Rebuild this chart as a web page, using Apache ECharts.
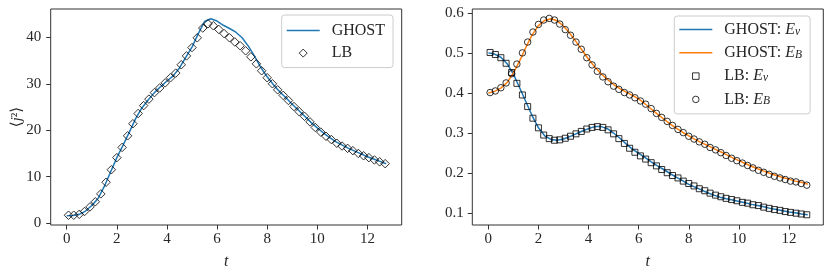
<!DOCTYPE html>
<html><head><meta charset="utf-8">
<script src="https://cdn.jsdelivr.net/npm/echarts@6/dist/echarts.min.js"></script>
<style>html,body{margin:0;padding:0;background:#fff}#c{width:831px;height:275px}</style>
</head><body><div id="c"></div>
<script>
// ---- data ----
const tLB = [0.07,0.28,0.50,0.71,0.93,1.14,1.36,1.57,1.78,2.00,2.21,2.43,2.64,2.85,3.07,3.28,3.50,3.71,3.93,4.14,4.35,4.57,4.78,5.00,5.21,5.43,5.64,5.85,6.07,6.28,6.50,6.71,6.92,7.14,7.35,7.57,7.78,8.00,8.21,8.42,8.64,8.85,9.07,9.28,9.49,9.71,9.92,10.14,10.35,10.56,10.78,10.99,11.21,11.42,11.64,11.85,12.06,12.28,12.49,12.71];
const lbJ2 = [1.7,1.7,1.9,2.5,3.5,4.6,6.3,8.8,11.5,14.1,16.3,18.8,21.4,23.6,25.3,26.7,28.1,29.1,30.2,31.3,32.3,34.1,36.0,37.8,39.9,42.0,42.9,42.5,41.7,40.8,39.9,39.0,38.2,37.1,35.8,34.3,32.8,31.3,30.0,28.7,27.5,26.4,25.1,24.0,23.0,21.8,20.6,19.6,18.7,18.0,17.2,16.6,16.1,15.6,15.0,14.5,14.1,13.6,13.2,12.8];
const lbEv = [0.501,0.496,0.488,0.474,0.451,0.424,0.395,0.366,0.337,0.313,0.295,0.286,0.282,0.283,0.287,0.292,0.298,0.304,0.310,0.314,0.316,0.314,0.308,0.298,0.286,0.274,0.262,0.252,0.243,0.235,0.226,0.218,0.209,0.201,0.194,0.188,0.180,0.174,0.168,0.161,0.156,0.150,0.145,0.141,0.137,0.134,0.131,0.127,0.125,0.121,0.119,0.115,0.112,0.109,0.107,0.104,0.102,0.100,0.098,0.096];
const lbEB = [0.401,0.405,0.413,0.425,0.448,0.472,0.500,0.527,0.552,0.571,0.582,0.586,0.582,0.572,0.558,0.544,0.527,0.509,0.488,0.470,0.454,0.440,0.428,0.417,0.409,0.401,0.395,0.388,0.380,0.372,0.361,0.349,0.339,0.329,0.319,0.309,0.301,0.292,0.285,0.278,0.272,0.264,0.258,0.251,0.244,0.237,0.231,0.225,0.219,0.213,0.207,0.202,0.197,0.192,0.188,0.184,0.180,0.178,0.174,0.170];
const tGhost = [0,0.25,0.5,0.75,1,1.25,1.5,1.75,2,2.25,2.5,2.75,3,3.25,3.5,3.75,4,4.25,4.5,4.75,5,5.25,5.5,5.75,6,6.25,6.5,6.75,7,7.25,7.5,7.75,8,8.25,8.5,8.75,9,9.25,9.5,9.75,10,10.25,10.5,10.75,11,11.25,11.5,11.75,12,12.25,12.5,12.75];
const ghostJ2 = [1.6,1.65,1.9,2.6,3.8,5.3,7.9,11.0,14.1,16.8,19.6,22.5,24.8,26.5,28.1,29.4,30.6,31.7,33.4,35.7,37.9,40.8,43.4,44.0,43.5,42.6,41.9,41.1,39.9,38.1,35.9,33.5,31.5,29.8,28.3,27.0,25.6,24.3,23.0,21.7,20.5,19.4,18.4,17.5,16.8,16.1,15.5,14.9,14.3,13.8,13.3,12.8];
const ghostEv = [0.500,0.497,0.489,0.473,0.447,0.413,0.378,0.343,0.313,0.293,0.284,0.282,0.285,0.291,0.298,0.305,0.311,0.316,0.316,0.311,0.300,0.287,0.273,0.260,0.249,0.239,0.228,0.218,0.209,0.199,0.190,0.181,0.172,0.165,0.158,0.151,0.145,0.140,0.136,0.133,0.129,0.126,0.122,0.119,0.116,0.112,0.109,0.106,0.103,0.101,0.098,0.096];
const ghostEB = [0.400,0.404,0.412,0.426,0.450,0.480,0.514,0.545,0.568,0.581,0.585,0.580,0.567,0.549,0.528,0.506,0.484,0.465,0.448,0.434,0.421,0.411,0.402,0.394,0.385,0.373,0.360,0.347,0.335,0.323,0.312,0.302,0.293,0.284,0.276,0.269,0.261,0.254,0.246,0.238,0.231,0.224,0.217,0.211,0.205,0.199,0.194,0.189,0.185,0.180,0.177,0.172];
const xTicks = [0,2,4,6,8,10,12];
const yTicksL = [0,10,20,30,40];
const yTicksR = [0.1,0.2,0.3,0.4,0.5,0.6];

// ---- chart ----
const zip = (xs, ys) => xs.map((x, i) => [x, ys[i]]);
const FONT = '"Liberation Serif", "DejaVu Serif", serif';
const TXT = '#262626';
const BLUE = '#1f77b4', ORANGE = '#ff7f0e';
const LINE_ICON = 'path://M0,0H66V3H0Z';
const DIAMOND_ICON = 'path://M5,0L10,5L5,10L0,5Z';
const SQUARE_ICON = 'path://M0,0H10V10H0Z';

function xAxis(gi) {
  return {
    type: 'value', gridIndex: gi, min: -0.64, max: 13.37,
    axisLine: { show: false, onZero: false }, splitLine: { show: false },
    axisTick: { show: true, length: 4.5, lineStyle: { color: '#333' }, customValues: xTicks },
    axisLabel: { customValues: xTicks, fontFamily: FONT, fontSize: 15, color: TXT, margin: 7 },
    name: 't', nameLocation: 'middle', nameGap: 29,
    nameTextStyle: { fontFamily: FONT, fontStyle: 'italic', fontSize: 16, color: TXT }
  };
}
const markerStyle = { color: 'rgba(0,0,0,0)', borderColor: '#000', borderWidth: 1 };
const richLeg = {
  r: { fontFamily: FONT, fontSize: 16, color: TXT },
  i: { fontFamily: FONT, fontSize: 16, fontStyle: 'italic', color: TXT },
  s: { fontFamily: FONT, fontSize: 11.5, fontStyle: 'italic', color: TXT, verticalAlign: 'bottom', lineHeight: 9 }
};
const legNames = {
  'GHOST': '{r|GHOST}', 'LB': '{r|LB}',
  'GHOST: Ev': '{r|GHOST: }{i|E}{s|v}', 'GHOST: EB': '{r|GHOST: }{i|E}{s|B}',
  'LB: Ev': '{r|LB: }{i|E}{s|v}', 'LB: EB': '{r|LB: }{i|E}{s|B}'
};
const legendBase = {
  orient: 'vertical', itemWidth: 33, symbolKeepAspect: true,
  backgroundColor: 'rgba(255,255,255,0.8)', borderColor: '#cccccc', borderWidth: 1, borderRadius: 3,
  textStyle: { fontFamily: FONT, fontSize: 16, color: TXT, padding: [0, 0, 0, 7], rich: richLeg },
  formatter: n => legNames[n], selectedMode: false
};

const option = {
  animation: false,
  grid: [
    { left: 50.7, top: 9, width: 351, height: 219, show: true, borderColor: '#333', borderWidth: 1 },
    { left: 472.3, top: 9, width: 351, height: 219, show: true, borderColor: '#333', borderWidth: 1 }
  ],
  xAxis: [xAxis(0), xAxis(1)],
  yAxis: [
    {
      type: 'value', gridIndex: 0, min: -0.4, max: 46.1,
      axisLine: { show: false, onZero: false }, splitLine: { show: false },
      axisTick: { show: true, length: 4.5, lineStyle: { color: '#333' }, customValues: yTicksL },
      axisLabel: { customValues: yTicksL, fontFamily: FONT, fontSize: 15, color: TXT, margin: 9.5 },
      name: '{n|⟨}{i|j}{n|²⟩}', nameLocation: 'middle', nameGap: 26, nameRotate: 90, nameMoveOverlap: false,
      nameTextStyle: { rich: {
        n: { fontFamily: FONT, fontSize: 15, color: TXT },
        i: { fontFamily: FONT, fontSize: 15, fontStyle: 'italic', color: TXT }
      } }
    },
    {
      type: 'value', gridIndex: 1, min: 0.0705, max: 0.6095,
      axisLine: { show: false, onZero: false }, splitLine: { show: false },
      axisTick: { show: true, length: 4.5, lineStyle: { color: '#333' }, customValues: yTicksR },
      axisLabel: { customValues: yTicksR, formatter: v => v.toFixed(1), fontFamily: FONT, fontSize: 15, color: TXT, margin: 8.5 }
    }
  ],
  legend: [
    Object.assign({}, legendBase, { left: 281.7, top: 15, padding: [7.5, 8, 6.5, 5], itemGap: 6.6, itemHeight: 8,
      itemStyle: { borderWidth: 1 },
      data: [{ name: 'GHOST', icon: LINE_ICON }, { name: 'LB', icon: DIAMOND_ICON }] }),
    Object.assign({}, legendBase, { left: 674.3, top: 16, padding: [5.5, 8, 6.5, 5], itemGap: 7.3, itemHeight: 6.5,
      itemStyle: { borderWidth: 1 },
      data: [{ name: 'GHOST: Ev', icon: LINE_ICON }, { name: 'GHOST: EB', icon: LINE_ICON },
             { name: 'LB: Ev', icon: SQUARE_ICON }, { name: 'LB: EB', icon: 'circle' }] })
  ],
  series: [
    { type: 'line', name: 'GHOST', xAxisIndex: 0, yAxisIndex: 0, data: zip(tGhost, ghostJ2), symbol: 'none',
      lineStyle: { color: BLUE, width: 1.5 }, itemStyle: { color: BLUE }, z: 2 },
    { type: 'scatter', name: 'LB', xAxisIndex: 0, yAxisIndex: 0, data: zip(tLB, lbJ2), symbol: 'diamond', symbolSize: 8.5,
      itemStyle: markerStyle, z: 3 },
    { type: 'line', name: 'GHOST: Ev', xAxisIndex: 1, yAxisIndex: 1, data: zip(tGhost, ghostEv), symbol: 'none',
      lineStyle: { color: BLUE, width: 1.5 }, itemStyle: { color: BLUE }, z: 2 },
    { type: 'line', name: 'GHOST: EB', xAxisIndex: 1, yAxisIndex: 1, data: zip(tGhost, ghostEB), symbol: 'none',
      lineStyle: { color: ORANGE, width: 1.5 }, itemStyle: { color: ORANGE }, z: 2 },
    { type: 'scatter', name: 'LB: Ev', xAxisIndex: 1, yAxisIndex: 1, data: zip(tLB, lbEv), symbol: 'rect', symbolSize: 6,
      itemStyle: markerStyle, z: 3 },
    { type: 'scatter', name: 'LB: EB', xAxisIndex: 1, yAxisIndex: 1, data: zip(tLB, lbEB), symbol: 'circle', symbolSize: 6.5,
      itemStyle: markerStyle, z: 3 }
  ]
};
const chart = echarts.init(document.getElementById('c'), null, { renderer: 'canvas' });
chart.setOption(option);
</script>
</body></html>
